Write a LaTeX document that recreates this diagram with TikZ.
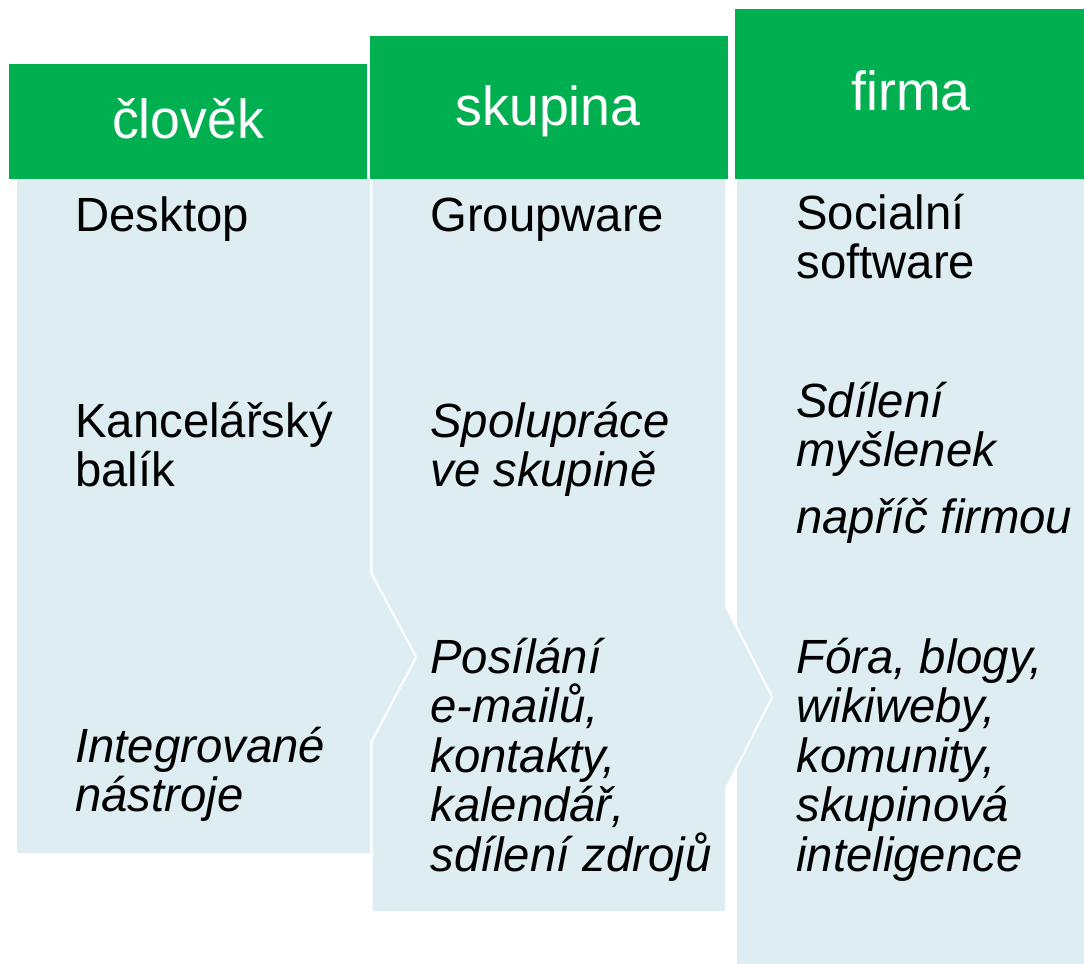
\documentclass[tikz,border=0pt]{standalone}
\usepackage{fontspec}
\setmainfont{Liberation Sans}
\newfontfamily\bodyfont[FakeStretch=0.985]{Liberation Sans}
\newfontfamily\headfont[FakeStretch=0.975]{Liberation Sans}
\definecolor{hdrgreen}{RGB}{0,176,80}
\definecolor{bodyblue}{RGB}{222,237,241}
\newcommand\stk[1]{\vtop{\baselineskip=24.75pt\halign{##\hfil\cr#1\crcr}}}
\begin{document}
\begin{tikzpicture}[x=0.5pt,y=-0.5pt,
  bodytext/.style={anchor=base west, inner sep=0pt, font=\bodyfont\fontsize{24}{24.75}\selectfont},
  bodyit/.style={bodytext, font=\bodyfont\fontsize{24}{24.75}\selectfont\itshape},
  headtext/.style={anchor=base, inner sep=0pt, text=white, font=\headfont\fontsize{27.5}{30}\selectfont},
  panel/.style={fill=bodyblue, draw=none},
  header/.style={fill=hdrgreen, draw=none}]
\useasboundingbox (0,0) rectangle (1084,964);
% bodies
\fill[panel] (17,179) -- (370,179) -- (370,573) -- (415,657) -- (370,742) -- (370,853) -- (17,853) -- cycle;
\fill[panel] (372.5,179) -- (725,179) -- (725,607) -- (771,697) -- (725,788) -- (725,911) -- (372.5,911) -- (372.5,742) -- (417.5,657) -- (372.5,573) -- cycle;
\fill[panel] (737,179) -- (1084,179) -- (1084,964) -- (737,964) -- (737,768.4) -- (773.5,697) -- (737,625.6) -- cycle;
% headers
\fill[header] (9,64) rectangle (367,179);
\fill[header] (370,36) rectangle (728,179);
\fill[header] (735,9) rectangle (1084,179);
\node[headtext] (h1) at (188,138) {člověk};
\node[headtext] (h2) at (548,125) {skupina};
\node[headtext] (h3) at (911,110) {firma};
% column 1
\node[bodytext] (a1) at (75,231) {Desktop};
\node[bodytext] (a2) at (75,437) {\stk{Kancelářský\cr balík}};
\node[bodyit] (a3) at (75,762) {\stk{Integrované\cr nástroje}};
% column 2
\node[bodytext] (b1) at (430,231) {Groupware};
\node[bodyit] (b2) at (430,437) {\stk{Spolupráce\cr ve skupině}};
\node[bodyit] (b3) at (430,673) {\stk{Posílání\cr e-mailů,\cr kontakty,\cr kalendář,\cr sdílení zdrojů}};
% column 3
\node[bodytext] (c1) at (796,229) {\stk{Socialní\cr software}};
\node[bodyit] (c2) at (796,417) {\stk{Sdílení\cr myšlenek}};
\node[bodyit] (c3) at (796,533) {napříč firmou};
\node[bodyit] (c4) at (796,673) {\stk{Fóra, blogy,\cr wikiweby,\cr komunity,\cr skupinová\cr inteligence}};
\end{tikzpicture}
\end{document}
